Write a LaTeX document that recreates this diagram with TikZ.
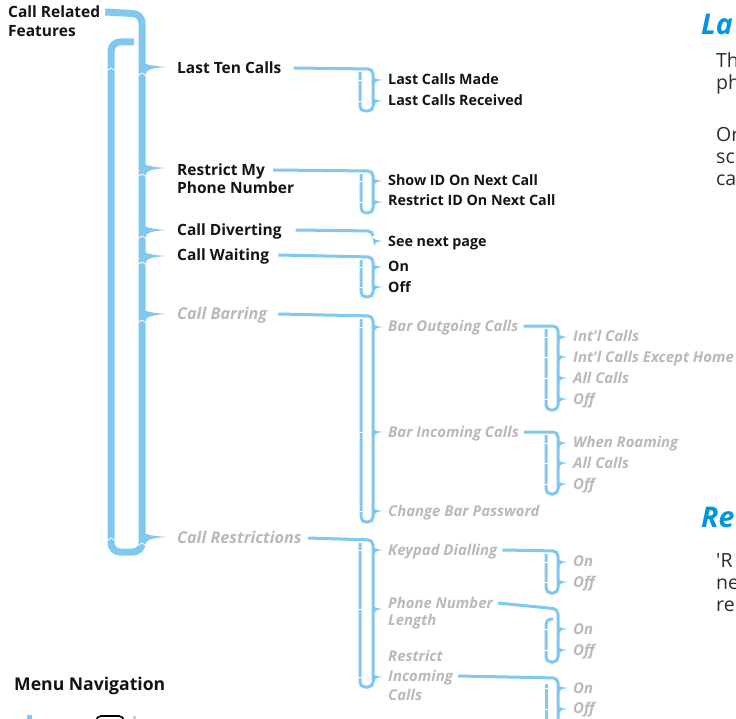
\documentclass[tikz,border=0pt]{standalone}
\usepackage{fontspec}
\setmainfont{Open Sans}
\definecolor{bl}{RGB}{128,200,240}
\definecolor{gr}{RGB}{184,184,190}
\definecolor{tx}{RGB}{20,20,20}
\definecolor{hd}{RGB}{0,150,220}
\definecolor{bd}{RGB}{45,45,45}
\newcommand\tipA[2]{\fill[bl] ({#1-3.5},{#2-11}) .. controls ({#1-3.5},{#2-3}) and ({#1+8},{#2-1.2}) .. ({#1+24},{#2}) .. controls ({#1+10},{#2+1}) and ({#1+3.5},{#2+2.5}) .. ({#1+3.5},{#2+8}) -- cycle;}
\newcommand\tipB[2]{\fill[bl] ({#1-1.5},{#2-7}) .. controls ({#1-1.5},{#2-2}) and ({#1+3},{#2-0.6}) .. ({#1+10},{#2}) .. controls ({#1+4},{#2+0.5}) and ({#1+1.5},{#2+1.5}) .. ({#1+1.5},{#2+5}) -- cycle;}
\newcommand\notchA[2]{\draw[white,line width=0.8pt] ({#1-4},{#2+1.5}) -- ({#1},{#2-1}) -- ({#1+4},{#2+1.5});}
\newcommand\notchB[2]{\draw[white,line width=0.6pt] ({#1-2},{#2}) -- ({#1+2},{#2});}
\begin{document}
\begin{tikzpicture}[x=1pt,y=-1pt,
  a/.style={anchor=west,inner sep=0pt,text depth=0pt,text height=11pt,text=tx,font=\fontsize{15.5}{18}\selectfont\bfseries},
  ag/.style={a,text=gr,font=\fontsize{16.2}{18}\selectfont\bfseries\itshape},
  b/.style={anchor=west,inner sep=0pt,text depth=0pt,text height=10.3pt,text=tx,font=\fontsize{14.3}{17}\selectfont\bfseries},
  bg/.style={b,text=gr,font=\fontsize{14.9}{17}\selectfont\bfseries\itshape},
  body/.style={anchor=west,inner sep=0pt,text depth=0pt,text height=13.9pt,text=bd,font=\fontsize{19.5}{22}\selectfont},
  head/.style={anchor=west,inner sep=0pt,text depth=0pt,text height=20pt,text=hd,font=\fontsize{28.5}{32}\selectfont\bfseries\itshape},
  mainline/.style={draw=bl,line width=7pt,rounded corners=9pt},
  subline/.style={draw=bl,line width=3pt,rounded corners=5pt}]
\useasboundingbox (0,0) rectangle (736,719);
\fill[white] (0,0) rectangle (736,719);

% ---------- texts level 0/1 ----------
\node[a] (crf1) at (8,12) {Call Related};
\node[a] (crf2) at (8,31) {Features};
\node[a] (ltc) at (177,68) {Last Ten Calls};
\node[a] (rmp1) at (177,170) {Restrict My};
\node[a] (rmp2) at (177,188) {Phone Number};
\node[a] (cdv) at (177,230) {Call Diverting};
\node[a] (cwt) at (177,255) {Call Waiting};
\node[ag] (cbr) at (177,314) {Call Barring};
\node[ag] (crs) at (177,538) {Call Restrictions};

% ---------- level 2 ----------
\node[b] (lcm) at (388,79) {Last Calls Made};
\node[b] (lcr) at (388,100) {Last Calls Received};
\node[b] (sid) at (388,180) {Show ID On Next Call};
\node[b] (rid) at (388,200) {Restrict ID On Next Call};
\node[b] (snp) at (388,241) {See next page};
\node[b] (won) at (388,266) {On};
\node[b] (woff) at (388,287) {Off};
\node[bg] (boc) at (388,326) {Bar Outgoing Calls};
\node[bg] (bic) at (388,432) {Bar Incoming Calls};
\node[bg] (cbp) at (388,511) {Change Bar Password};
\node[bg] (kpd) at (388,550) {Keypad Dialling};
\node[bg] (pnl1) at (388,603) {Phone Number};
\node[bg] (pnl2) at (388,620) {Length};
\node[bg] (ric1) at (388,656) {Restrict};
\node[bg] (ric2) at (388,676) {Incoming};
\node[bg] (ric3) at (388,695) {Calls};

% ---------- level 3 ----------
\node[bg] (o1) at (573,336) {Int\textquotesingle l Calls};
\node[bg] (o2) at (573,357) {Int\textquotesingle l Calls Except Home};
\node[bg] (o3) at (573,378) {All Calls};
\node[bg] (o4) at (573,399) {Off};
\node[bg] (i1) at (573,442) {When Roaming};
\node[bg] (i2) at (573,463) {All Calls};
\node[bg] (i3) at (573,484) {Off};
\node[bg] (k1) at (573,561) {On};
\node[bg] (k2) at (573,582) {Off};
\node[bg] (p1) at (573,629) {On};
\node[bg] (p2) at (573,650) {Off};
\node[bg] (r1) at (573,688) {On};
\node[bg] (r2) at (573,708) {Off};

% ---------- menu navigation ----------
\node[a,font=\fontsize{17.6}{20}\selectfont\bfseries,text height=12.5pt] (mnav) at (14,684) {Menu Navigation};

% ---------- right column fragments ----------
\node[head] (h1) at (701,25) {La};
\node[body] (t1) at (716,61) {Th};
\node[body] (t2) at (716,83) {ph};
\node[body] (t3) at (716,135) {Or};
\node[body] (t4) at (716,157) {sc};
\node[body] (t5) at (716,179) {ca};
\node[head] (h2) at (701,517) {Re};
\node[body] (t6) at (716,561) {\textquotesingle R};
\node[body] (t7) at (716,583) {ne};
\node[body] (t8) at (716,605) {re};

% ---------- main bracket ----------
\draw[mainline] ([xshift=5pt]crf1.east) -- (142,14) -- (142,552) -- (111,552) -- (111,42) -- (134,42);
\tipA{142}{67}
\tipA{142}{168}
\tipA{142}{230}
\tipA{142}{256}
\tipA{142}{314}
\tipA{142}{537}
\notchA{142}{74}\notchA{142}{175}\notchA{142}{237}\notchA{142}{263}\notchA{142}{321}\notchA{142}{544}
\notchA{111}{69}\notchA{111}{539}

% ---------- level 2 brackets ----------
\draw[subline] ([xshift=12pt]ltc.east) -- (373,69) -- (373,111) -- (360,111) -- (360,72);
\tipB{373}{80}\tipB{373}{101}
\notchB{360}{80}\notchB{360}{101}

\draw[subline] ([xshift=8pt]rmp1.east) -- (373,171) -- (373,213) -- (361,213) -- (361,174);
\tipB{373}{181}\tipB{373}{202}
\notchB{361}{181}\notchB{361}{202}

\draw[subline] ([xshift=14pt]cdv.east) -- (373,231) -- (373,236);
\tipB{373}{241}

\draw[subline] ([xshift=9pt]cwt.east) -- (373,257) -- (373,297) -- (361,297) -- (361,260);
\tipB{373}{267}\tipB{373}{287}
\notchB{361}{267}\notchB{361}{287}

\draw[subline] ([xshift=11pt]cbr.east) -- (373,316) -- (373,522) -- (361,522) -- (361,319);
\tipB{373}{327}\tipB{373}{432}\tipB{373}{511}
\notchB{361}{327}\notchB{361}{432}\notchB{361}{511}

\draw[subline] ([xshift=6pt]crs.east) -- (373,540) -- (373,687) -- (360,687) -- (360,543);
\tipB{373}{550}\tipB{373}{609}\tipB{373}{677}
\notchB{360}{550}\notchB{360}{609}\notchB{360}{677}

% ---------- level 3 brackets ----------
\draw[subline] ([xshift=5pt]boc.east) -- (558,326) -- (558,410) -- (546,410) -- (546,329);
\tipB{558}{337}\tipB{558}{357}\tipB{558}{378}\tipB{558}{399}
\notchB{546}{337}\notchB{546}{357}\notchB{546}{378}\notchB{546}{399}

\draw[subline] ([xshift=5pt]bic.east) -- (558,432) -- (558,494) -- (546,494) -- (546,435);
\tipB{558}{443}\tipB{558}{463}\tipB{558}{484}
\notchB{546}{443}\notchB{546}{463}\notchB{546}{484}

\draw[subline] ([xshift=5pt]kpd.east) -- (558,551) -- (558,593) -- (546,593) -- (546,554);
\tipB{558}{562}\tipB{558}{582}
\notchB{546}{562}\notchB{546}{582}

\draw[subline] ([xshift=5pt]pnl1.east) -- (558,609) -- (558,662) -- (546,662) -- (546,619) -- (553,619);
\tipB{558}{629}\tipB{558}{650}
\notchB{546}{629}\notchB{546}{650}

\draw[subline] ([xshift=5pt]ric2.east) -- (558,678) -- (558,730);
\draw[subline] (546,684) -- (546,730);
\tipB{558}{688}\tipB{558}{709}
\notchB{546}{688}\notchB{546}{709}

% ---------- cut-off icons at the bottom ----------
\fill[bl] (27,715) rectangle (32,722);
\draw[black,line width=1.6pt,rounded corners=5pt] (96,716) rectangle (124,740);
\fill[bl!70] (133,716) rectangle (136,722);
\end{tikzpicture}
\end{document}
